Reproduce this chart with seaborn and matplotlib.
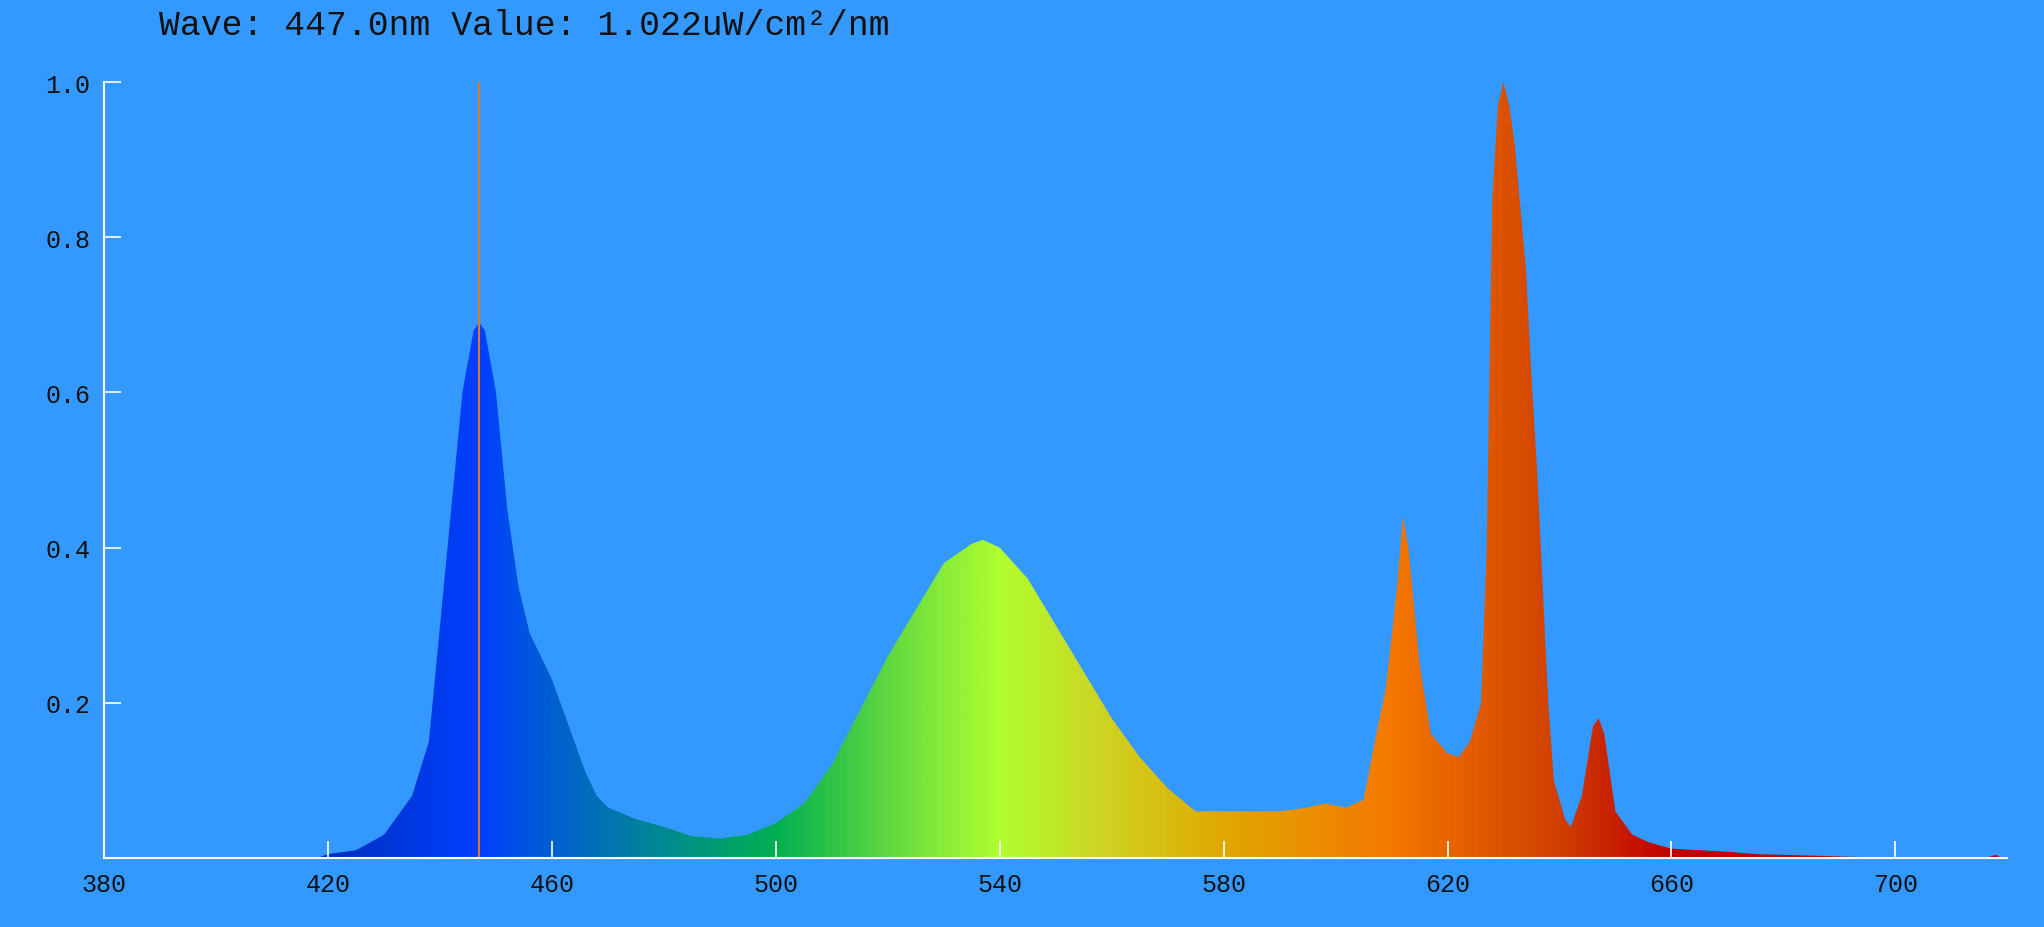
import matplotlib
matplotlib.use("Agg")
import matplotlib.pyplot as plt
import seaborn as sns
import numpy as np
from matplotlib.colors import LinearSegmentedColormap

# spectrum samples
wave = [418, 420, 425, 430, 435, 438, 440, 442, 444, 446, 447, 448, 450, 452, 454, 456, 458,
        460, 462, 464, 466, 468, 470, 475, 480, 485, 490, 495, 500, 505, 510, 515, 520, 525,
        530, 535, 537, 540, 545, 550, 555, 560, 565, 570, 575, 580, 585, 590, 595, 598, 602,
        605, 607, 609, 611, 612, 613, 615, 617, 620, 622, 624, 626, 627, 628, 629, 630, 631,
        632, 633, 634, 635, 636, 637, 638, 639, 641, 642, 644, 646, 647, 648, 650, 653, 656,
        660, 665, 670, 675, 680, 690, 700, 705, 716, 718, 719, 720]
value = [0.0, 0.005, 0.01, 0.03, 0.08, 0.15, 0.30, 0.45, 0.60, 0.68, 0.69, 0.68, 0.60, 0.45,
         0.35, 0.29, 0.26, 0.23, 0.19, 0.15, 0.11, 0.08, 0.065, 0.05, 0.04, 0.028, 0.025, 0.03,
         0.045, 0.07, 0.12, 0.19, 0.26, 0.32, 0.38, 0.405, 0.41, 0.40, 0.36, 0.30, 0.24, 0.18,
         0.13, 0.09, 0.06, 0.06, 0.06, 0.06, 0.065, 0.07, 0.065, 0.075, 0.15, 0.22, 0.35, 0.44,
         0.40, 0.25, 0.16, 0.135, 0.13, 0.15, 0.20, 0.40, 0.85, 0.97, 1.0, 0.97, 0.92, 0.84,
         0.76, 0.62, 0.50, 0.35, 0.20, 0.10, 0.05, 0.04, 0.08, 0.17, 0.18, 0.16, 0.06, 0.03,
         0.02, 0.012, 0.01, 0.008, 0.005, 0.004, 0.002, 0.0, 0.0, 0.0, 0.004, 0.0, 0.0]

color_waves = [380, 420, 447, 460, 480, 500, 520, 540, 560, 580, 610, 640, 660, 720]
color_list = ["#0030c0", "#0030c0", "#0040ff", "#0060d0", "#008a90", "#00b050", "#60d840",
              "#b0ff30", "#d0d020", "#e0a800", "#f57800", "#d04000", "#c00000", "#c00000"]

cursor_wave = 447.0
cursor_value = 1.022
bg = "#3399ff"

sns.set_style("white")
plt.rcParams["font.family"] = ["Liberation Mono", "DejaVu Sans Mono"]

fig = plt.figure(figsize=(20.44, 9.28), dpi=100, facecolor=bg)
ax = fig.add_axes([0.051, 0.0744, 0.931, 0.836], facecolor=bg)

pos = [(w - 380) / 340 for w in color_waves]
cmap = LinearSegmentedColormap.from_list("spec", list(zip(pos, color_list)))

poly = ax.fill_between(wave, value, 0, color="none", lw=0)
grad = np.linspace(0, 1, 1024).reshape(1, -1)
img = ax.imshow(grad, cmap=cmap, extent=[380, 720, 0, 1], aspect="auto", zorder=1)
img.set_clip_path(poly.get_paths()[0], transform=ax.transData)

ax.axvline(cursor_wave, ymin=0, ymax=1, color="#e07830", lw=1.5, zorder=3)

ax.set_xlim(380, 720)
ax.set_ylim(0, 1.0)
ax.set_xticks(range(380, 720, 40))
ax.set_yticks([0.2, 0.4, 0.6, 0.8, 1.0])
ax.set_yticklabels(["0.2", "0.4", "0.6", "0.8", "1.0"])
ax.set_axisbelow(False)
for s in ["top", "right"]:
    ax.spines[s].set_visible(False)
for s in ["left", "bottom"]:
    ax.spines[s].set_color("white")
    ax.spines[s].set_linewidth(1.5)
    ax.spines[s].set_zorder(4)
ax.tick_params(direction="in", color="white", length=12, width=1.2, labelsize=18,
               labelcolor="#111111", pad=10, bottom=True, left=True)

fig.text(0.078, 0.972, f"Wave: {cursor_wave:.1f}nm Value: {cursor_value:.3f}uW/cm²/nm",
         fontsize=25, color="#111111", va="center", ha="left")

fig.savefig("out.png", dpi=100, facecolor=bg)
